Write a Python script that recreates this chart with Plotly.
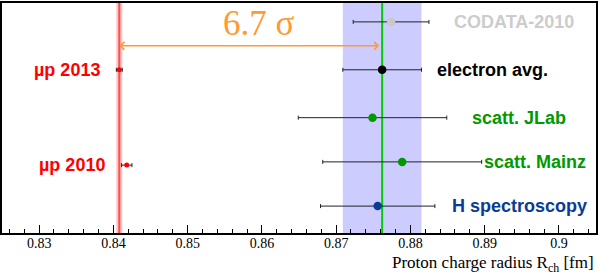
import plotly.graph_objects as go

# ---- data ----
labels = ["H spectroscopy", "scatt. Mainz", "scatt. JLab", "electron avg.", "CODATA-2010"]
values = [0.8756, 0.8789, 0.8749, 0.8762, 0.8774]
errors = [0.0077, 0.0107, 0.0100, 0.0053, 0.0051]
rows = [1.0, 1.96, 2.92, 3.96, 5.0]

mu_labels = ["µp 2010", "µp 2013"]
mu_values = [0.8418, 0.8408]
mu_errors = [0.0007, 0.0004]
mu_rows = [1.89, 3.96]

e_band = (0.8762, 0.0053)      # electron average band (center, half-width)
mu_band = (0.8408, 0.0004)     # muonic 2013 band
sigma_text = "6.7 σ"
arrow_row = 4.48

tick_vals = [0.83, 0.84, 0.85, 0.86, 0.87, 0.88, 0.89, 0.90]
tick_text = ["0.83", "0.84", "0.85", "0.86", "0.87", "0.88", "0.89", "0.9"]

# ---- styles ----
marker_colors = ["#0a3c96", "#009900", "#009900", "#000000", "#c8c8c8"]
label_colors = ["#0a3c96", "#009900", "#009900", "#000000", "#cccccc"]
label_xpaper = [0.988, 0.987, 0.953, 0.923, 0.966]
mu_label_xpaper = [0.176, 0.168]
orange = "#ff9933"
serif = "Liberation Serif, Times New Roman, serif"

fig = go.Figure()

# bands and lines
fig.add_shape(type="rect", xref="x", yref="paper", x0=e_band[0] - e_band[1], x1=e_band[0] + e_band[1],
              y0=0, y1=1, fillcolor="#ccccff", line_width=0, layer="below")
fig.add_shape(type="line", xref="x", yref="paper", x0=e_band[0], x1=e_band[0], y0=0, y1=1,
              line=dict(color="#00cc00", width=2), layer="below")
fig.add_shape(type="rect", xref="x", yref="paper", x0=mu_band[0] - mu_band[1], x1=mu_band[0] + mu_band[1],
              y0=0, y1=1, fillcolor="#ffc4c4", line_width=0, layer="below")
fig.add_shape(type="line", xref="x", yref="paper", x0=mu_band[0], x1=mu_band[0], y0=0, y1=1,
              line=dict(color="#ff4d4d", width=2), layer="below")

for lab, v, e, r, mc in zip(labels, values, errors, rows, marker_colors):
    fig.add_trace(go.Scatter(
        x=[v], y=[r], mode="markers",
        marker=dict(color=mc, size=8.5),
        error_x=dict(type="constant", value=e, color="#222222", thickness=1, width=2),
        showlegend=False, name=lab))

for lab, v, e, r in zip(mu_labels, mu_values, mu_errors, mu_rows):
    fig.add_trace(go.Scatter(
        x=[v], y=[r], mode="markers",
        marker=dict(color="#ff0000", size=5),
        error_x=dict(type="constant", value=e, color="#222222", thickness=1, width=2),
        showlegend=False, name=lab))

annotations = []
for lab, r, c, xp in zip(labels, rows, label_colors, label_xpaper):
    annotations.append(dict(x=xp, xref="paper", y=r, yref="y", text="<b>%s</b>" % lab,
                            showarrow=False, xanchor="right", yanchor="middle",
                            font=dict(family="Liberation Sans", size=18, color=c)))
for lab, r, xp in zip(mu_labels, mu_rows, mu_label_xpaper):
    annotations.append(dict(x=xp, xref="paper", y=r, yref="y", text="<b>%s</b>" % lab,
                            showarrow=False, xanchor="right", yanchor="middle",
                            font=dict(family="Liberation Sans", size=18, color="#ff0000")))

# double arrow
annotations.append(dict(x=mu_band[0], y=arrow_row, xref="x", yref="y",
                        ax=e_band[0], ay=arrow_row, axref="x", ayref="y",
                        showarrow=True, arrowhead=4, startarrowhead=4, arrowside="end+start",
                        arrowsize=1, startarrowsize=1, arrowwidth=1.5, arrowcolor=orange,
                        standoff=0, startstandoff=0, text=" "))
annotations.append(dict(x=0.8596, y=4.96, xref="x", yref="y", text=sigma_text, showarrow=False,
                        xanchor="center", yanchor="middle",
                        font=dict(family=serif, size=35, color=orange)))
annotations.append(dict(x=1.0, xref="paper", y=-0.135, yref="paper",
                        text="Proton charge radius R<sub>ch</sub> [fm]", showarrow=False,
                        xanchor="right", yanchor="middle",
                        font=dict(family=serif, size=17, color="black")))

fig.update_layout(
    width=599, height=280,
    margin=dict(l=2, r=2, t=1, b=47),
    plot_bgcolor="white", paper_bgcolor="white",
    font=dict(family=serif, color="black"),
    annotations=annotations,
    xaxis=dict(range=[0.825, 0.905], tickvals=tick_vals, ticktext=tick_text,
               ticks="inside", ticklen=8, tickcolor="black", tickwidth=1,
               ticklabelstandoff=-4,
               minor=dict(dtick=0.002, tick0=0.83, ticks="inside", ticklen=4, tickcolor="black"),
               showgrid=False, zeroline=False, showline=True, mirror=True,
               linecolor="black", linewidth=1.5,
               tickfont=dict(family=serif, size=14, color="black")),
    yaxis=dict(range=[0.416, 5.41], showticklabels=False, ticks="", showgrid=False,
               zeroline=False, showline=True, mirror=True, linecolor="black", linewidth=1.5),
)

fig.write_html("out.html", config={"displayModeBar": False},
               post_script="document.body.style.margin='0';")
